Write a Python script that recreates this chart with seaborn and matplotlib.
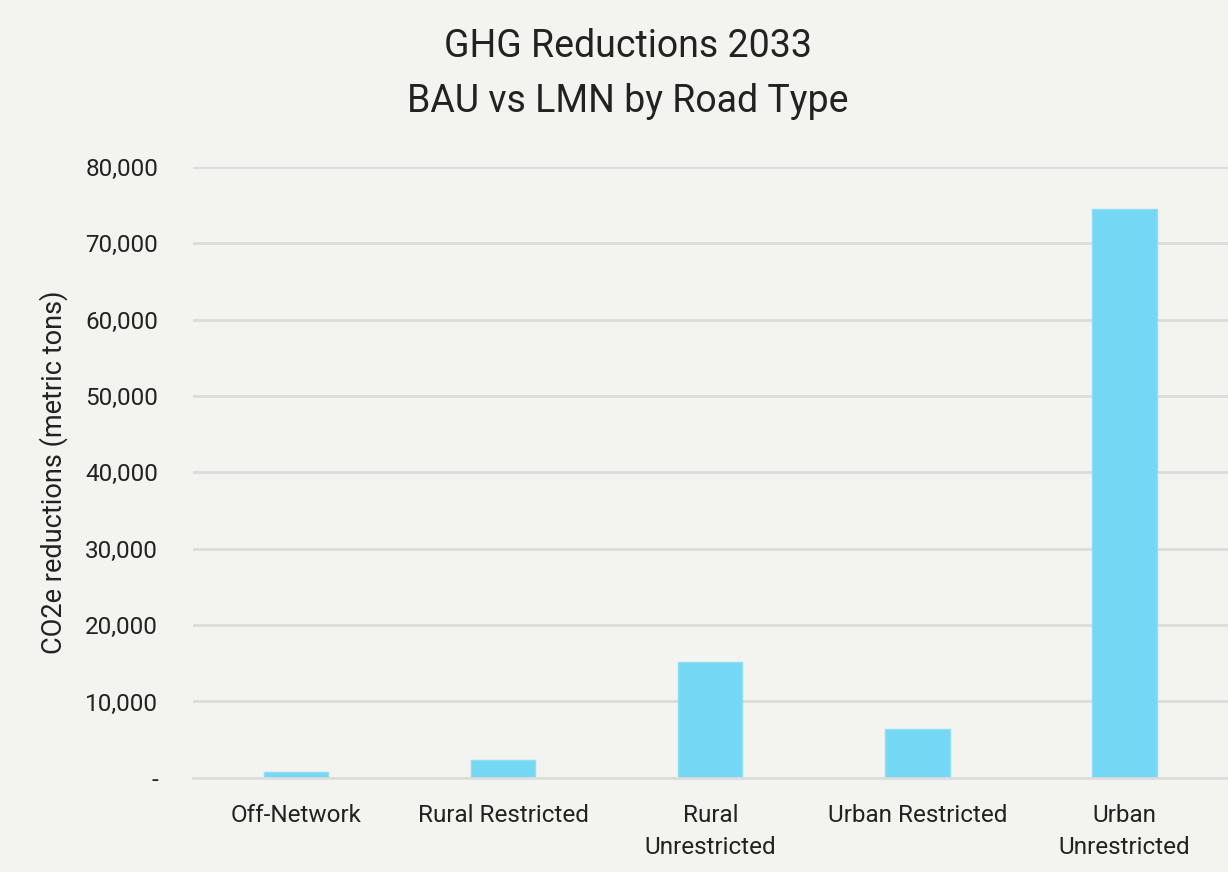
import matplotlib
matplotlib.use("Agg")
import matplotlib.pyplot as plt
import seaborn as sns
import pandas as pd
from matplotlib.ticker import FuncFormatter

categories = ["Off-Network", "Rural Restricted", "Rural\nUnrestricted", "Urban Restricted", "Urban\nUnrestricted"]
values = [700, 2300, 15200, 6400, 74500]
y_ticks = [0, 10000, 20000, 30000, 40000, 50000, 60000, 70000, 80000]

sns.set_theme(style="whitegrid")
plt.rcParams['font.family'] = ['Roboto', 'DejaVu Sans']

bg = "#F3F3EF"
df = pd.DataFrame({"cat": categories, "val": values})

fig = plt.figure(figsize=(12.28, 8.72), dpi=100, facecolor=bg)
ax = fig.add_axes([0.157, 0.108, 0.843, 0.7005])
ax.set_facecolor(bg)
sns.barplot(data=df, x="cat", y="val", color="#74D7F3", width=0.31, saturation=1,
            edgecolor="#8EDDF4", linewidth=1, ax=ax)

ax.set_ylim(0, 80000)
ax.set_yticks(y_ticks)
ax.yaxis.set_major_formatter(FuncFormatter(lambda v, p: "-" if v == 0 else f"{int(v):,}"))
ax.grid(axis="y", color="#DCDCDC", linewidth=2)
ax.grid(axis="x", visible=False)
ax.set_axisbelow(True)
for s in ["top", "right", "left"]:
    ax.spines[s].set_visible(False)
ax.spines["bottom"].set_color("#DCDCDC")
ax.spines["bottom"].set_linewidth(2)
ax.tick_params(axis="both", length=0, labelsize=17.5, colors="#222222")
ax.tick_params(axis="y", pad=25)
ax.tick_params(axis="x", pad=19)
for lbl in ax.get_xticklabels():
    lbl.set_linespacing(1.5)
ax.set_xlabel("")
ax.set_ylabel("CO2e reductions (metric tons)", fontsize=19.5, color="#222222", labelpad=12)
fig.text(0.511, 0.947, "GHG Reductions 2033", ha="center", va="center", fontsize=27, color="#222222")
fig.text(0.511, 0.884, "BAU vs LMN by Road Type", ha="center", va="center", fontsize=27, color="#222222")

fig.savefig("out.png", dpi=100, facecolor=bg)
